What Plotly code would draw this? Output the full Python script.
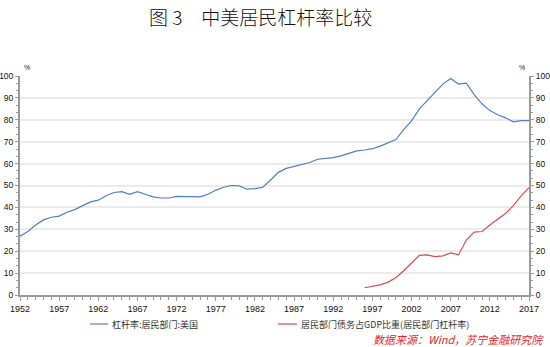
import plotly.graph_objects as go

# US household leverage (household debt / GDP, %), 1952-2017
us_years = list(range(1952, 2018))
us_values = [
    26.8, 29.0, 32.0, 34.3, 35.5, 36.0, 37.8, 39.0, 40.8, 42.5,
    43.3, 45.3, 46.8, 47.2, 46.0, 47.2, 46.0, 44.8, 44.3, 44.3,
    45.0, 45.0, 45.0, 44.8, 46.0, 47.8, 49.2, 50.0, 49.8, 48.3,
    48.6, 49.2, 52.5, 56.0, 57.8, 58.6, 59.6, 60.5, 62.0, 62.2,
    62.7, 63.5, 64.5, 65.8, 66.2, 66.8, 68.0, 69.5, 71.0, 75.5,
    79.5, 85.0, 88.8, 92.5, 96.3, 98.9, 96.3, 96.7, 91.5, 87.3,
    84.2, 82.3, 80.9, 79.1, 79.6, 79.6,
]

# China household debt as share of GDP (%), 1996-2017
cn_years = list(range(1996, 2018))
cn_values = [
    3.3, 3.9, 4.6, 5.9, 7.9, 11.1, 14.7, 18.1, 18.3, 17.5,
    17.9, 19.2, 18.3, 25.1, 28.7, 29.0, 32.0, 34.8, 37.2, 40.8,
    45.3, 49.0,
]

us_name = "杠杆率:居民部门:美国"
cn_name = "居民部门债务占GDP比重(居民部门杠杆率)"
title_text = "图 3\u3000中美居民杠杆率比较"
source_text = "数据来源：Wind，苏宁金融研究院"

blue = "#4f7fc9"
red = "#d24f4f"
axis_gray = "#9a9a9a"

W, H = 550, 347
ml, mr, mt, mb = 20, 21, 76, 52
pw = W - ml - mr
ph = H - mt - mb


def px_x(x):
    return (x - ml) / pw


def px_y(y):
    return (H - mb - y) / ph


fig = go.Figure()
fig.add_trace(go.Scatter(x=us_years, y=us_values, mode="lines", name=us_name,
                         line=dict(color=blue, width=1.2), showlegend=False))
fig.add_trace(go.Scatter(x=cn_years, y=cn_values, mode="lines", name=cn_name,
                         line=dict(color=red, width=1.2), showlegend=False,
                         yaxis="y2"))

tick_font = dict(family="Liberation Sans, Arial, sans-serif", size=9, color="#111")
ytick_font = dict(family="Liberation Sans, Arial, sans-serif", size=8.5, color="#111")

fig.update_layout(
    width=W, height=H,
    margin=dict(l=ml, r=mr, t=mt, b=mb, autoexpand=False),
    paper_bgcolor="white", plot_bgcolor="white",
    xaxis=dict(
        range=[1952, 2017], tick0=1952, dtick=5, automargin=False,
        showline=True, linecolor=axis_gray, linewidth=2,
        ticks="outside", ticklen=4, tickwidth=1, tickcolor=axis_gray,
        minor=dict(dtick=1, ticks="outside", ticklen=3, tickcolor=axis_gray, tickwidth=1),
        showgrid=False, zeroline=False, tickfont=tick_font,
    ),
    yaxis=dict(
        range=[0, 100], tick0=0, dtick=10, automargin=False,
        showline=True, linecolor=axis_gray, linewidth=2,
        ticks="outside", ticklen=3, tickwidth=1, tickcolor=axis_gray,
        minor=dict(dtick=10 / 3, ticks="outside", ticklen=2, tickcolor=axis_gray,
                   tickwidth=1, showgrid=False),
        showgrid=True, gridcolor="#ebebeb", gridwidth=1.5,
        zeroline=False, tickfont=ytick_font,
    ),
    yaxis2=dict(
        range=[0, 100], tick0=0, dtick=10, overlaying="y", side="right",
        automargin=False,
        showline=True, linecolor=axis_gray, linewidth=2,
        ticks="outside", ticklen=3, tickwidth=1, tickcolor=axis_gray,
        minor=dict(dtick=10 / 3, ticks="outside", ticklen=2, tickcolor=axis_gray,
                   tickwidth=1, showgrid=False),
        showgrid=False, zeroline=False, tickfont=ytick_font,
    ),
)

cjk = "Noto Sans CJK SC, sans-serif"

annotations = [
    dict(text=title_text, xref="paper", yref="paper", x=px_x(260), y=px_y(16),
         xanchor="center", yanchor="middle", showarrow=False,
         font=dict(family=cjk, size=19, color="#111", weight=300)),
    dict(text="%", xref="paper", yref="paper", x=px_x(22), y=px_y(67),
         xanchor="left", yanchor="middle", showarrow=False,
         font=dict(family="Liberation Sans, sans-serif", size=7, color="#222")),
    dict(text="%", xref="paper", yref="paper", x=px_x(527), y=px_y(67),
         xanchor="right", yanchor="middle", showarrow=False,
         font=dict(family="Liberation Sans, sans-serif", size=7, color="#222")),
    dict(text=us_name, xref="paper", yref="paper", x=px_x(110), y=px_y(324),
         xanchor="left", yanchor="middle", showarrow=False,
         font=dict(family=cjk, size=9, color="#333")),
    dict(text=cn_name, xref="paper", yref="paper", x=px_x(299), y=px_y(324),
         xanchor="left", yanchor="middle", showarrow=False,
         font=dict(family=cjk, size=9, color="#333")),
    dict(text="<i>" + source_text + "</i>", xref="paper", yref="paper",
         x=px_x(546), y=px_y(339), xanchor="right", yanchor="middle",
         showarrow=False, font=dict(family=cjk, size=11, color="#e3262b")),
]
fig.update_layout(annotations=annotations)

# legend key lines
shapes = [
    dict(type="line", xref="paper", yref="paper", x0=px_x(90), x1=px_x(108),
         y0=px_y(324), y1=px_y(324), line=dict(color=blue, width=1.2)),
    dict(type="line", xref="paper", yref="paper", x0=px_x(278), x1=px_x(297),
         y0=px_y(324), y1=px_y(324), line=dict(color=red, width=1.2)),
]
fig.update_layout(shapes=shapes)

fig.write_html("out.html")
